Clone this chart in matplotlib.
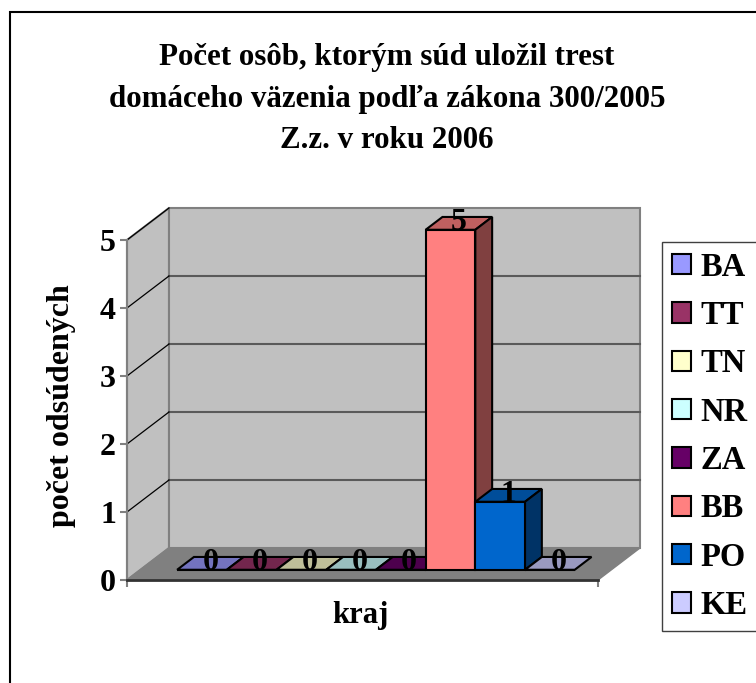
import matplotlib
matplotlib.use("Agg")
import matplotlib.pyplot as plt
from matplotlib.colors import to_rgb
from matplotlib.patches import Polygon, Patch, Rectangle

plt.rcParams["font.family"] = ["Liberation Serif", "DejaVu Serif"]
plt.rcParams["font.weight"] = "bold"

# data
regions = ["BA", "TT", "TN", "NR", "ZA", "BB", "PO", "KE"]
counts = [0, 0, 0, 0, 0, 5, 1, 0]
colors = ["#9999FF", "#993366", "#FFFFCC", "#CCFFFF", "#660066", "#FF8080", "#0066CC", "#CCCCFF"]
y_ticks = [0, 1, 2, 3, 4, 5]
title_lines = ["Počet osôb, ktorým súd uložil trest",
               "domáceho väzenia podľa zákona 300/2005",
               "Z.z. v roku 2006"]
x_label = "kraj"
y_label = "počet odsúdených"

W_PX, H_PX = 756, 683
fig = plt.figure(figsize=(W_PX / 100, H_PX / 100), dpi=100)

# front plane of the 3d box, in pixels
left, right, y0, y5 = 127, 598, 580, 240
ax = fig.add_axes([left / W_PX, (H_PX - y0) / H_PX, (right - left) / W_PX, (y0 - y5) / H_PX])

bar_px = 49.7
floor_w = (right - left) / bar_px          # floor width in bar widths
ymax = y_ticks[-1]
DX = 42 / bar_px                            # depth offset, x in bar units
DY = 32 / ((y0 - y5) / ymax)                # depth offset, y in value units
d0, d1 = 0.32, 0.72                         # front / back depth of the bars

ax.set_xlim(0, floor_w)
ax.set_ylim(0, ymax)
ax.patch.set_visible(False)


def shade(c, f):
    r, g, b = to_rgb(c)
    return (r * f, g * f, b * f)


def poly(pts, fc, ec, lw, z):
    ax.add_patch(Polygon(pts, closed=True, facecolor=fc, edgecolor=ec, linewidth=lw,
                         zorder=z, clip_on=False))


# walls and floor
poly([(0, 0), (0, ymax), (DX, ymax + DY), (DX, DY)], "#C0C0C0", "#808080", 1.5, 0)
poly([(DX, DY), (DX, ymax + DY), (floor_w + DX, ymax + DY), (floor_w + DX, DY)],
     "#C0C0C0", "#808080", 1.5, 0)
poly([(0, 0), (floor_w, 0), (floor_w + DX, DY), (DX, DY)], "#808080", "#808080", 1, 1)

for v in y_ticks[1:-1]:
    ax.plot([DX, floor_w + DX], [v + DY, v + DY], color="#5a5a5a", lw=1.5, zorder=0.5, clip_on=False)
for v in y_ticks[1:]:
    ax.plot([0, DX], [v, v + DY], color="black", lw=0.9, zorder=0.5, clip_on=False)

# bars
gap = (floor_w - len(regions)) / 2
for i, (name, v, c) in enumerate(zip(regions, counts, colors)):
    xl = gap + i
    z = 2 + i * 0.1
    ax.bar(xl + d0 * DX, v, width=1, bottom=d0 * DY, align="edge", color=c,
           edgecolor="black", linewidth=1.5, zorder=z, clip_on=False)
    top = [(xl + d0 * DX, v + d0 * DY), (xl + 1 + d0 * DX, v + d0 * DY),
           (xl + 1 + d1 * DX, v + d1 * DY), (xl + d1 * DX, v + d1 * DY)]
    poly(top, shade(c, 0.75), "black", 1.5, z)
    if v > 0:
        side = [(xl + 1 + d0 * DX, d0 * DY), (xl + 1 + d1 * DX, d1 * DY),
                (xl + 1 + d1 * DX, v + d1 * DY), (xl + 1 + d0 * DX, v + d0 * DY)]
        poly(side, shade(c, 0.5), "black", 1.5, z)

# value labels on top of each bar
for i, v in enumerate(counts):
    xc = gap + i + 0.5 + (d0 + d1) / 2 * DX
    ax.text(xc, v + d0 * DY, str(v), ha="center", va="baseline", fontsize=23,
            zorder=10, clip_on=False)

# axes
for s in ["top", "right"]:
    ax.spines[s].set_visible(False)
ax.spines["left"].set_color("#808080")
ax.spines["left"].set_linewidth(1.5)
ax.spines["bottom"].set_color("#333333")
ax.spines["bottom"].set_linewidth(2)
ax.set_yticks(y_ticks)
ax.set_yticklabels([str(t) for t in y_ticks], fontsize=23, fontweight="bold")
ax.set_xticks([0, floor_w])
ax.set_xticklabels([])
ax.tick_params(axis="both", direction="out", length=5, width=1.5, color="#808080", pad=3)

fig.text(360 / W_PX, 1 - 615 / H_PX, x_label, ha="center", va="center", fontsize=22)
fig.text(62 / W_PX, 1 - 406 / H_PX, y_label, ha="center", va="center", rotation=90, fontsize=23)

# title
for line, base in zip(title_lines, [65, 107, 148]):
    fig.text(387 / W_PX, 1 - base / H_PX, line, ha="center", va="baseline", fontsize=22.3)

# legend
handles = [Patch(facecolor=c, edgecolor="black", linewidth=1.5) for c in colors]
leg = fig.legend(handles, regions, loc="upper left", bbox_to_anchor=(662 / W_PX, 1 - 242 / H_PX),
                 fontsize=23.5, frameon=True, fancybox=False, framealpha=1, edgecolor="#404040",
                 handlelength=0.58, handleheight=0.58, handletextpad=0.31, labelspacing=0.53,
                 borderpad=0.3, borderaxespad=0)
leg.get_frame().set_linewidth(1)

# outer chart border
fig.patches.append(Rectangle((10 / W_PX, -0.1), 1.2, 1.1 - 12 / H_PX, transform=fig.transFigure,
                             fill=False, edgecolor="black", linewidth=1.5))

fig.savefig("out.png", dpi=100)
